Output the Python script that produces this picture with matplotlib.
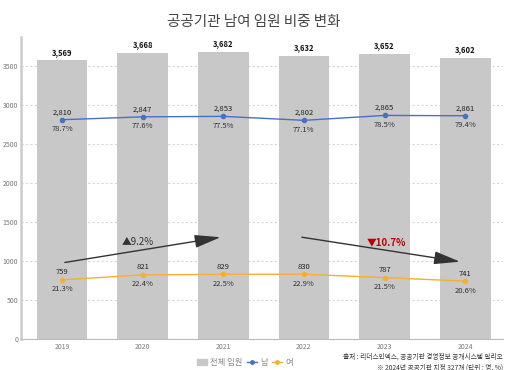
import matplotlib
matplotlib.use("Agg")
import matplotlib.pyplot as plt
from matplotlib.lines import Line2D
from matplotlib.patches import Patch

plt.rcParams['font.family'] = ['Noto Sans CJK KR', 'DejaVu Sans']

years = ['2019', '2020', '2021', '2022', '2023', '2024']
total = [3569, 3668, 3682, 3632, 3652, 3602]
male = [2810, 2847, 2853, 2802, 2865, 2861]
male_pct = ['78.7%', '77.6%', '77.5%', '77.1%', '78.5%', '79.4%']
female = [759, 821, 829, 830, 787, 741]
female_pct = ['21.3%', '22.4%', '22.5%', '22.9%', '21.5%', '20.6%']
title = '공공기관 남여 임원 비중 변화'
up_label = '▲9.2%'
down_label = '▼10.7%'
source = '출처 : 리더스인덱스, 공공기관 경영정보 공개시스템 알리오\n※ 2024년 공공기관 지정 327개 (단위 : 명, %)'

fig = plt.figure(figsize=(5.13, 3.70), dpi=100)
ax = fig.add_axes([21/513, 1-339/370, (503-21)/513, (339-37)/370])

x = list(range(len(years)))
ax.bar(x, total, width=0.63, color='#C8C8C8', zorder=2)
ax.plot(x, male, color='#4472C4', lw=1.0, marker='o', ms=3, zorder=3)
ax.plot(x, female, color='#F2B134', lw=1.0, marker='o', ms=3, zorder=3)

for i in x:
    ax.text(i, total[i] + 45, f'{total[i]:,}', ha='center', va='bottom', fontsize=5.5,
            fontweight='bold', color='#111111', zorder=4)
    ax.text(i, male[i] + 45, f'{male[i]:,}', ha='center', va='bottom', fontsize=5.5,
            color='#222222', zorder=4)
    ax.text(i, male[i] - 70, male_pct[i], ha='center', va='top', fontsize=5.5,
            color='#333333', zorder=4)
    ax.text(i, female[i] + 45, f'{female[i]:,}', ha='center', va='bottom', fontsize=5.5,
            color='#222222', zorder=4)
    ax.text(i, female[i] - 70, female_pct[i], ha='center', va='top', fontsize=5.5,
            color='#333333', zorder=4)

ax.annotate('', xy=(2.0, 1310), xytext=(0.0, 975),
            arrowprops=dict(arrowstyle='-|>,head_length=1.6,head_width=0.4', color='#333333', lw=1.0),
            zorder=5)
ax.annotate('', xy=(4.97, 985), xytext=(2.94, 1310),
            arrowprops=dict(arrowstyle='-|>,head_length=1.6,head_width=0.4', color='#333333', lw=1.0),
            zorder=5)
ax.text(0.94, 1240, up_label, ha='center', va='center', fontsize=7, color='#333333', zorder=5)
ax.text(4.02, 1240, down_label, ha='center', va='center', fontsize=7, fontweight='bold',
        color='#C00000', zorder=5)

ax.set_xlim(-0.51, 5.47)
ax.set_ylim(0, 3870)
ax.set_yticks(range(0, 3501, 500))
ax.set_xticks(x)
ax.set_xticklabels(years)
ax.tick_params(axis='both', length=0, labelsize=5, colors='#777777')
ax.tick_params(axis='x', pad=3)
ax.tick_params(axis='y', pad=2)
ax.yaxis.grid(True, linestyle=(0, (2, 2)), color='#D5D5D5', lw=0.8, zorder=0)
ax.set_axisbelow(True)
for s in ['top', 'right']:
    ax.spines[s].set_visible(False)
ax.spines['left'].set_color('#CCCCCC')
ax.spines['left'].set_linewidth(1.8)
ax.spines['bottom'].set_color('#BBBBBB')
ax.spines['bottom'].set_linewidth(0.8)

fig.text(0.495, 1-22/370, title, ha='center', va='center', fontsize=10.5, color='#444444')

handles = [Patch(color='#C8C8C8', label='전체 임원'),
           Line2D([0], [0], color='#4472C4', marker='o', ms=2.5, lw=1, label='남'),
           Line2D([0], [0], color='#F2B134', marker='o', ms=2.5, lw=1, label='여')]
fig.legend(handles=handles, loc='center', bbox_to_anchor=(245/513, 1-362/370), ncol=3,
           frameon=False, fontsize=6, handlelength=1.2, handletextpad=0.3, columnspacing=0.6,
           labelcolor='#888888')

fig.text(503/513, 1-362/370, source, ha='right', va='center', fontsize=4.8, color='#333333',
         linespacing=1.4)

fig.savefig('out.png', dpi=100)
